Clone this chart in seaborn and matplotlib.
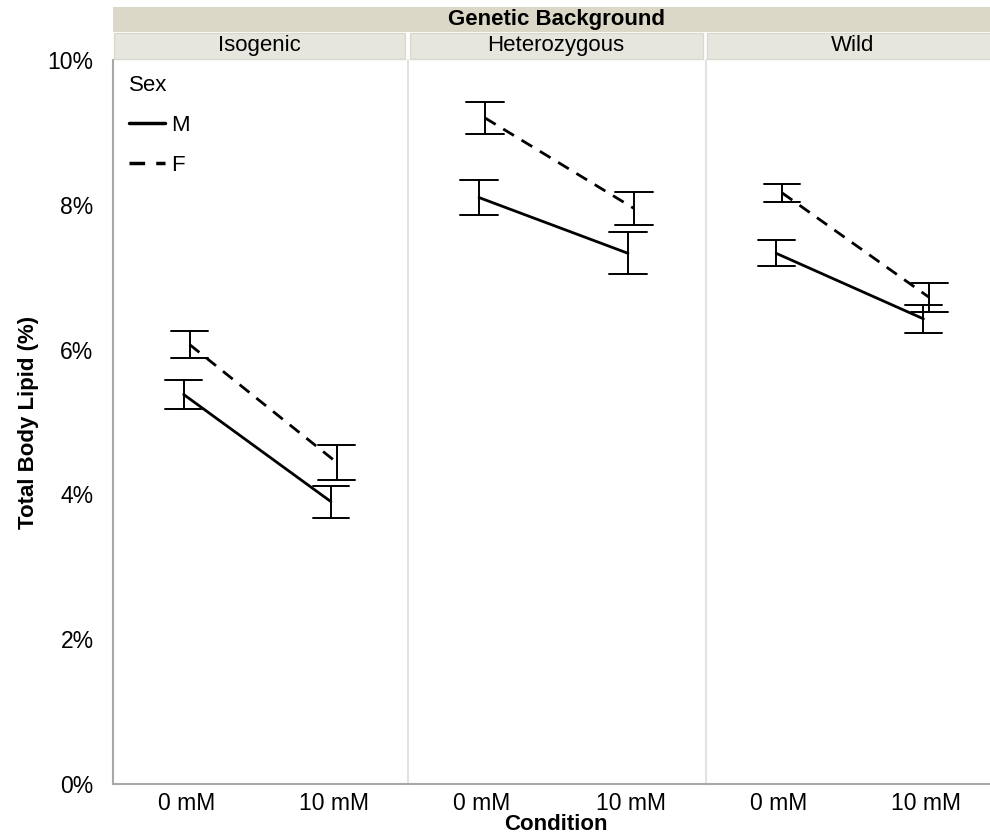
import matplotlib
matplotlib.use("Agg")
import matplotlib.pyplot as plt
import seaborn as sns
import pandas as pd
from matplotlib.patches import Rectangle
from matplotlib.ticker import PercentFormatter

# ---- data ----
backgrounds = ["Isogenic", "Heterozygous", "Wild"]
conditions = ["0 mM", "10 mM"]
sexes = ["M", "F"]
# per background: [0 mM, 10 mM]; lower / upper ends of the error bars (%)
male_low = {"Isogenic": [5.18, 3.68], "Heterozygous": [7.86, 7.04], "Wild": [7.15, 6.23]}
male_high = {"Isogenic": [5.58, 4.12], "Heterozygous": [8.34, 7.62], "Wild": [7.51, 6.62]}
female_low = {"Isogenic": [5.89, 4.20], "Heterozygous": [8.98, 7.72], "Wild": [8.04, 6.52]}
female_high = {"Isogenic": [6.25, 4.68], "Heterozygous": [9.42, 8.18], "Wild": [8.29, 6.92]}
y_ticks = [0, 2, 4, 6, 8, 10]

rows = []
for bg in backgrounds:
    for sex, lo_d, hi_d in [("M", male_low, male_high), ("F", female_low, female_high)]:
        for i, cond in enumerate(conditions):
            for v in (lo_d[bg][i], hi_d[bg][i]):
                rows.append({"Background": bg, "Condition": cond, "Sex": sex, "Lipid": v})
df = pd.DataFrame(rows)

# ---- figure ----
sns.set_theme(style="white")
plt.rcParams["font.family"] = ["Liberation Sans", "DejaVu Sans"]
plt.rcParams["text.color"] = "black"
plt.rcParams["axes.labelcolor"] = "black"
plt.rcParams["xtick.color"] = "black"
plt.rcParams["ytick.color"] = "black"
W, H = 990, 839
fig = plt.figure(figsize=(W / 100, H / 100), dpi=100)

top_px, bot_px = 60, 784
lefts = [113, 407.5, 705.5]
rights = [407.5, 705.5, 1000]
axes = []
for k, bg in enumerate(backgrounds):
    width = rights[k] - lefts[k]
    ax = fig.add_axes([lefts[k] / W, (H - bot_px) / H, width / W, (bot_px - top_px) / H])
    axes.append(ax)
    sub = df[df["Background"] == bg]
    sns.pointplot(data=sub, x="Condition", y="Lipid", hue="Sex",
                  order=conditions, hue_order=sexes,
                  palette={"M": "black", "F": "black"},
                  estimator="mean", errorbar=("pi", 100),
                  markers=["", ""], linestyles=["-", (0, (4.5, 3.2))],
                  dodge=0.04, capsize=0.25, linewidth=2.0,
                  err_kws={"linewidth": 1.4}, ax=ax, legend=(k == 0))
    ax.set_ylim(0, 10)
    ax.set_xlim(-0.5, 1.5)
    ax.set_yticks(y_ticks)
    ax.yaxis.set_major_formatter(PercentFormatter(100, decimals=0))
    ax.set_xlabel("")
    ax.tick_params(axis="x", length=0, pad=6, labelsize=16.5, labelcolor="black")
    for s in ["top", "right"]:
        ax.spines[s].set_visible(False)
    ax.spines["bottom"].set_color("#a8a8a8")
    ax.spines["bottom"].set_linewidth(1.5)
    if k == 0:
        ax.spines["left"].set_color("#a8a8a8")
        ax.spines["left"].set_linewidth(1.5)
        ax.tick_params(axis="y", length=10, width=1.2, color="#a8a8a8", pad=4,
                       labelsize=16.5, labelcolor="black")
        ax.set_ylabel("Total Body Lipid (%)", fontsize=16, fontweight="bold", labelpad=6,
                      color="black")
    else:
        ax.spines["left"].set_color("#dddddd")
        ax.spines["left"].set_linewidth(1.2)
        ax.tick_params(axis="y", left=False, labelleft=False)
        ax.set_ylabel("")

# legend
ax0 = axes[0]
w0 = rights[0] - lefts[0]
sns.move_legend(ax0, "upper left", bbox_to_anchor=((129 - 113) / w0, 1 - (75 - top_px) / (bot_px - top_px)),
                frameon=False, title="Sex", fontsize=16, title_fontsize=16,
                handlelength=1.6, handletextpad=0.3, labelspacing=0.85,
                borderpad=0, borderaxespad=0)
leg = ax0.get_legend()
leg._legend_box.align = "left"
leg.get_title().set_color("black")
for t in leg.get_texts():
    t.set_color("black")
for h in leg.get_lines():
    h.set_linewidth(2.5)

# header strips
def frect(x0, y0, x1, y1, fc, ec="none", lw=0):
    fig.add_artist(Rectangle((x0 / W, (H - y1) / H), (x1 - x0) / W, (y1 - y0) / H,
                             transform=fig.transFigure, facecolor=fc, edgecolor=ec, linewidth=lw))

frect(113, 7, 1000, 32, "#dbd8c8")
fig.text((113 + 1000) / 2 / W, 1 - 19.5 / H, "Genetic Background", ha="center", va="center",
         fontsize=16, fontweight="bold", color="black")
ends = [405, 703, 1000]
starts = [113, 409, 706]
for k, bg in enumerate(backgrounds):
    frect(starts[k] + 0.5, 32.5, ends[k] - 0.5, 58.5, "#e7e6de", ec="#d9d8cc", lw=1.0)
    fig.text((starts[k] + ends[k]) / 2 / W, 1 - 45.5 / H, bg, ha="center", va="center",
             fontsize=16, color="black")

fig.text(556 / W, 1 - 824 / H, "Condition", ha="center", va="center", fontsize=16,
         fontweight="bold", color="black")

fig.savefig("out.png", dpi=100)
